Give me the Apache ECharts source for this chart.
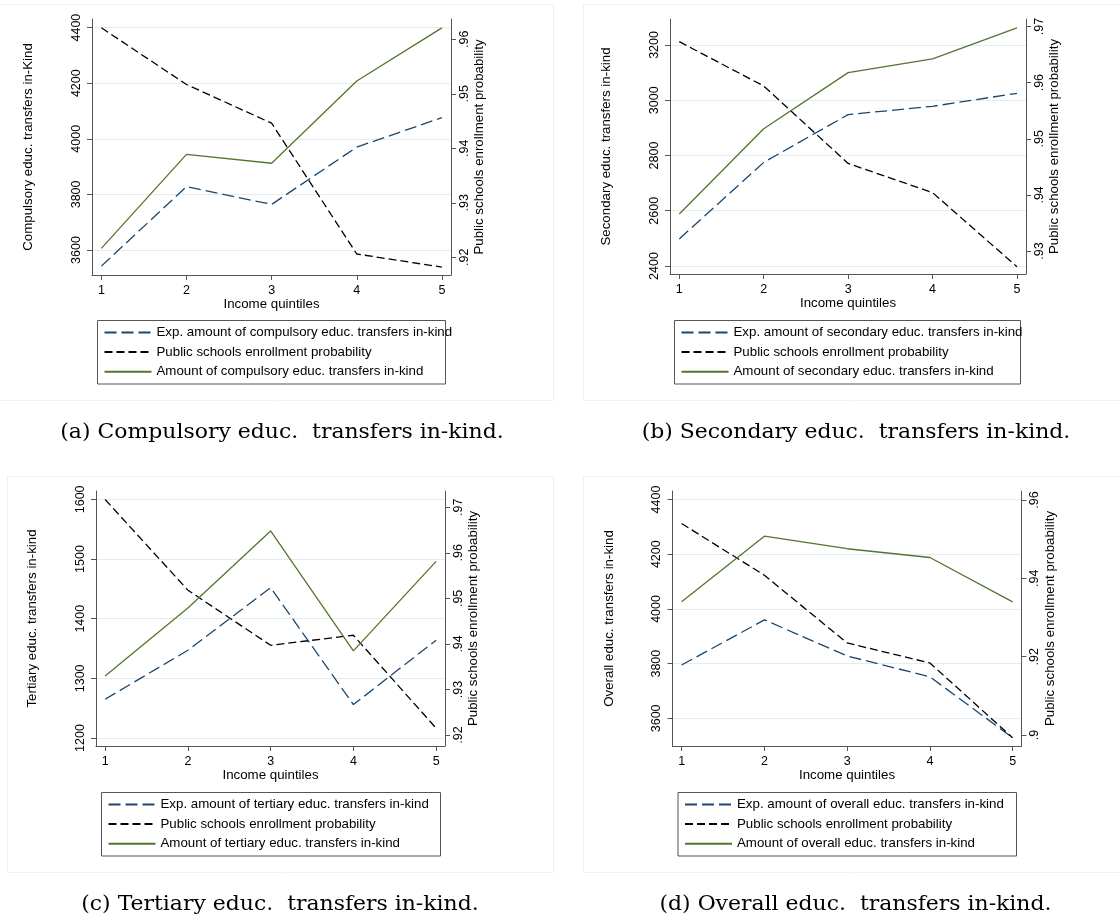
<!DOCTYPE html>
<html>
<head>
<meta charset="utf-8">
<script src="https://cdn.jsdelivr.net/npm/echarts@6/dist/echarts.min.js"></script>
<style>
  html, body { margin: 0; padding: 0; background: #fff; }
  #chart { width: 1120px; height: 921px; }
</style>
</head>
<body>
<div id="chart"></div>
<script>
  // income quintiles on the x axis
  const quintiles = [1, 2, 3, 4, 5]

  // (a) compulsory
  const compExp = [3542, 3828, 3764, 3970, 4076]
  const compProb = [0.9621, 0.9517, 0.9446, 0.9206, 0.9182]
  const compAmt = [3606, 3944, 3912, 4208, 4399]
  const compTicks = [3600, 3800, 4000, 4200, 4400]
  const compProbTicks = [0.92, 0.93, 0.94, 0.95, 0.96]

  // (b) secondary
  const secExp = [2498, 2775, 2948, 2978, 3025]
  const secProb = [0.9673, 0.9594, 0.9456, 0.9404, 0.9272]
  const secAmt = [2588, 2897, 3100, 3150, 3262]
  const secTicks = [2400, 2600, 2800, 3000, 3200]
  const secProbTicks = [0.93, 0.94, 0.95, 0.96, 0.97]

  // (c) tertiary
  const terExp = [1265, 1347, 1452, 1256, 1364]
  const terProb = [0.9717, 0.9518, 0.9397, 0.9419, 0.9215]
  const terAmt = [1304, 1418, 1547, 1346, 1496]
  const terTicks = [1200, 1300, 1400, 1500, 1600]
  const terProbTicks = [0.92, 0.93, 0.94, 0.95, 0.96, 0.97]

  // (d) overall
  const allExp = [3795, 3960, 3828, 3752, 3529]
  const allProb = [0.954, 0.9408, 0.9235, 0.9184, 0.8993]
  const allAmt = [4026, 4266, 4220, 4188, 4026]
  const allTicks = [3600, 3800, 4000, 4200, 4400]
  const allProbTicks = [0.9, 0.92, 0.94, 0.96]

  const probName = 'Public schools enrollment probability'

  const panels = [
    {
      key: 'compulsory', yTitle: 'Compulsory educ. transfers in-Kind', caption: '(a) Compulsory educ.  transfers in-kind.',
      exp: compExp, prob: compProb, amt: compAmt, ticks: compTicks, probTicks: compProbTicks,
      yMin: 3510, yMax: 4431, rMin: 0.91675, rMax: 0.96372,
      grid: { left: 92, top: 19, width: 359, height: 256 },
      box: [97.5, 320.5, 348, 63.5], capX: 282, capY: 433,
    },
    {
      key: 'secondary', yTitle: 'Secondary educ. transfers in-kind', caption: '(b) Secondary educ.  transfers in-kind.',
      exp: secExp, prob: secProb, amt: secAmt, ticks: secTicks, probTicks: secProbTicks,
      yMin: 2371, yMax: 3294, rMin: 0.9259, rMax: 0.97134,
      grid: { left: 670, top: 19, width: 356, height: 255 },
      box: [674.5, 320.5, 346, 63.5], capX: 856, capY: 433,
    },
    {
      key: 'tertiary', yTitle: 'Tertiary educ. transfers in-kind', caption: '(c) Tertiary educ.  transfers in-kind.',
      exp: terExp, prob: terProb, amt: terAmt, ticks: terTicks, probTicks: terProbTicks,
      yMin: 1186.6, yMax: 1614, rMin: 0.91759, rMax: 0.97357,
      grid: { left: 96, top: 491, width: 349, height: 255 },
      box: [101.5, 792.5, 339, 63.5], capX: 280, capY: 905,
    },
    {
      key: 'overall', yTitle: 'Overall educ. transfers in-kind', caption: '(d) Overall educ.  transfers in-kind.',
      exp: allExp, prob: allProb, amt: allAmt, ticks: allTicks, probTicks: allProbTicks,
      yMin: 3499, yMax: 4431, rMin: 0.8972, rMax: 0.9623,
      grid: { left: 672.5, top: 491, width: 349, height: 255 },
      box: [678, 792.5, 338.5, 63.5], capX: 855.5, capY: 905,
    },
  ]

  const sansFont = '"Liberation Sans", Arial, sans-serif'
  const axisColor = '#555555'
  const navy = '#1a476f'
  const green = '#55752f'

  const fmtProb = (v) => String(+v.toFixed(2)).replace(/^0/, '')
  const fmtInt = (v) => String(Math.round(v))

  let grids = []
  let xAxes = []
  let yAxes = []
  let series = []
  let legends = []
  let graphics = []

  // faint outer borders of each Stata graph region
  const regions = [[-2, 4, 555, 396], [583, 4, 560, 396], [7, 476, 546, 396], [583, 476, 560, 396]]
  regions.forEach((r) => {
    graphics.push({
      type: 'rect', silent: true, z: 0,
      shape: { x: r[0] + 0.5, y: r[1] + 0.5, width: r[2], height: r[3] },
      style: { fill: 'none', stroke: '#edf2f2', lineWidth: 1 },
    })
  })

  panels.forEach((p, i) => {
    grids.push(Object.assign({ containLabel: false }, p.grid))

    xAxes.push({
      type: 'value', gridIndex: i, min: 0.89, max: 5.107,
      name: 'Income quintiles', nameLocation: 'middle', nameGap: 23,
      nameTextStyle: { fontFamily: sansFont, fontSize: 13.3, color: '#000' },
      axisLine: { show: true, lineStyle: { color: axisColor, width: 1 } },
      axisTick: { show: true, length: 5, customValues: quintiles, lineStyle: { color: axisColor } },
      axisLabel: { customValues: quintiles, margin: 9, fontFamily: sansFont, fontSize: 12.5, color: '#000' },
      splitLine: { show: false },
    })

    yAxes.push({
      type: 'value', gridIndex: i, position: 'left', min: p.yMin, max: p.yMax,
      name: p.yTitle, nameLocation: 'middle', nameRotate: 90, nameGap: 57,
      nameTextStyle: { fontFamily: sansFont, fontSize: 13.3, color: '#000' },
      axisLine: { show: true, lineStyle: { color: axisColor, width: 1 } },
      axisTick: { show: true, length: 5, customValues: p.ticks, lineStyle: { color: axisColor } },
      axisLabel: { customValues: p.ticks, rotate: 90, margin: 9, formatter: fmtInt, fontFamily: sansFont, fontSize: 12.5, color: '#000' },
      splitLine: { show: true, lineStyle: { color: '#e4eced', width: 1 } },
    })
    yAxes.push({
      type: 'value', gridIndex: i, position: 'right', min: p.rMin, max: p.rMax, alignTicks: false,
      name: probName, nameLocation: 'middle', nameRotate: 90, nameGap: 22,
      nameTextStyle: { fontFamily: sansFont, fontSize: 13.3, color: '#000' },
      axisLine: { show: true, lineStyle: { color: axisColor, width: 1 } },
      axisTick: { show: true, length: 5, customValues: p.probTicks, lineStyle: { color: axisColor } },
      axisLabel: { customValues: p.probTicks, rotate: 90, margin: 7, formatter: fmtProb, fontFamily: sansFont, fontSize: 12.5, color: '#000' },
      splitLine: { show: false },
    })

    const expName = `Exp. amount of ${p.key} educ. transfers in-kind`
    const amtName = `Amount of ${p.key} educ. transfers in-kind`
    const pairs = (arr) => quintiles.map((q, k) => [q, arr[k]])

    series.push({
      name: expName, type: 'line', xAxisIndex: i, yAxisIndex: 2 * i, data: pairs(p.exp),
      symbol: 'none', lineStyle: { color: navy, width: 1.3, type: [12, 5] }, itemStyle: { color: navy },
    })
    series.push({
      name: probName, type: 'line', xAxisIndex: i, yAxisIndex: 2 * i + 1, data: pairs(p.prob),
      symbol: 'none', lineStyle: { color: '#000', width: 1.3, type: [8, 4] }, itemStyle: { color: '#000' },
    })
    series.push({
      name: amtName, type: 'line', xAxisIndex: i, yAxisIndex: 2 * i, data: pairs(p.amt),
      symbol: 'none', lineStyle: { color: green, width: 1.3, type: 'solid' }, itemStyle: { color: green },
    })

    legends.push({
      data: [expName, probName, amtName], orient: 'vertical', selectedMode: false,
      left: p.box[0] + 6, top: p.box[1] + 5, padding: 0,
      itemWidth: 47, itemHeight: 14, itemGap: 5.6,
      itemStyle: { opacity: 0 },
      textStyle: { fontFamily: sansFont, fontSize: 13.3, color: '#000', lineHeight: 14 },
    })

    graphics.push({
      type: 'rect', silent: true, z: 0,
      shape: { x: p.box[0], y: p.box[1], width: p.box[2], height: p.box[3] },
      style: { fill: 'none', stroke: '#555555', lineWidth: 1 },
    })
    graphics.push({
      type: 'text', silent: true, x: p.capX, y: p.capY, scaleX: 1.07,
      style: {
        text: p.caption, fill: '#000', align: 'center', verticalAlign: 'middle',
        font: '20.5px "DejaVu Serif", serif',
      },
    })
  })

  const chart = echarts.init(document.getElementById('chart'))
  chart.setOption({
    animation: false,
    backgroundColor: '#ffffff',
    grid: grids,
    xAxis: xAxes,
    yAxis: yAxes,
    legend: legends,
    series: series,
    graphic: graphics,
  })
</script>
</body>
</html>
